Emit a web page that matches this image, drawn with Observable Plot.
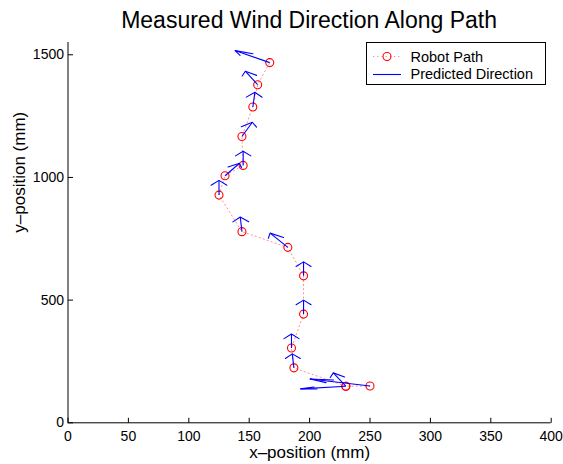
<!DOCTYPE html>
<html><head><meta charset="utf-8">
<script src="https://cdn.jsdelivr.net/npm/d3@7"></script>
<script src="https://cdn.jsdelivr.net/npm/@observablehq/plot@0.6"></script>
<style>
body{margin:0;background:#fff;font-family:"Liberation Sans",Arial,Helvetica,sans-serif;}
#wrap{position:relative;width:563px;height:464px;overflow:hidden;background:#fff;}
#title{height:35px;box-sizing:border-box;padding:5px 12.3px 0 67.5px;line-height:30px;font-size:23px;text-align:center;color:#000;white-space:nowrap;}
#legend{position:absolute;left:366px;top:42px;}
</style>
</head><body>
<div id="wrap">
<div id="title">Measured Wind Direction Along Path</div>
<div id="chart"></div>
<svg id="legend" width="181" height="44"></svg>
</div>
<script>
// Robot path positions (mm), in travel order
const pathX = [250, 230, 230, 187, 185, 195, 195, 182, 144, 125, 130, 145, 144, 153, 157, 167];
const pathY = [150, 149, 149, 224, 305, 443, 599, 715, 779, 928, 1007, 1049, 1167, 1287, 1378, 1468];
// Predicted wind direction vectors (as drawn, mm)
const windU = [-49.7, -37.5, -10.4, -1.3, 0, 0, 0, -14.7, -1.4, 0, 12, 0, 8.6, 1.7, -10.2, -28.7];
const windV = [28.5, -10.6, 54.5, 57, 57, 57, 57, 58, 60, 60, 51, 58, 58, 60, 55, 49];
const xTicks = [0, 50, 100, 150, 200, 250, 300, 350, 400];
const yTicks = [0, 500, 1000, 1500];
const legendLabels = ["Robot Path", "Predicted Direction"];

const W = 563, H = 429, mL = 67.5, mR = 12.3, mT = 7, mB = 41.7;
const xDom = [0, 400], yDom = [0, 1550];
const pxX = (W - mL - mR) / (xDom[1] - xDom[0]);
const pxY = (H - mT - mB) / (yDom[1] - yDom[0]);
const tickLen = 5;

const rows = pathX.map((x, i) => ({x, y: pathY[i], u: windU[i], v: windV[i], k: i}));
// MATLAB-style quiver arrowheads (alpha = beta = 0.33, in data units)
const alpha = 0.33, beta = 0.33;
const heads = rows.flatMap(d => {
  const tx = d.x + d.u, ty = d.y + d.v;
  return [
    {x: tx - alpha * (d.u + beta * d.v), y: ty - alpha * (d.v - beta * d.u), k: d.k},
    {x: tx, y: ty, k: d.k},
    {x: tx - alpha * (d.u - beta * d.v), y: ty - alpha * (d.v + beta * d.u), k: d.k}
  ];
});

const font = '"Liberation Sans", Arial, Helvetica, sans-serif';
const chart = Plot.plot({
  width: W, height: H,
  marginLeft: mL, marginRight: mR, marginTop: mT, marginBottom: mB,
  style: {fontFamily: font, fontSize: "14px", color: "#000", background: "#fff", overflow: "visible"},
  x: {domain: xDom},
  y: {domain: yDom},
  marks: [
    Plot.axisX({ticks: xTicks, tickSize: 0, tickPadding: 8, tickFormat: d => String(d), label: null, fontSize: 14}),
    Plot.axisY({ticks: yTicks, tickSize: 0, tickPadding: 4, tickFormat: d => String(d), label: null, fontSize: 14}),
    Plot.link(xTicks, {x1: d => d, x2: d => d, y1: yDom[0], y2: yDom[0] + tickLen / pxY, stroke: "#000", strokeWidth: 1}),
    Plot.link(yTicks, {y1: d => d, y2: d => d, x1: xDom[0], x2: xDom[0] + tickLen / pxX, stroke: "#000", strokeWidth: 1}),
    Plot.ruleY([yDom[0]], {stroke: "#000", strokeWidth: 1}),
    Plot.ruleX([xDom[0]], {stroke: "#000", strokeWidth: 1}),
    Plot.line(rows, {x: "x", y: "y", stroke: "#f00", strokeWidth: 1, strokeOpacity: 0.45, strokeDasharray: "1.2 3"}),
    Plot.dot(rows, {x: "x", y: "y", r: 4, stroke: "#f00", strokeWidth: 1.1, fill: "none"}),
    Plot.link(rows, {x1: "x", y1: "y", x2: d => d.x + d.u, y2: d => d.y + d.v, stroke: "#00f", strokeWidth: 1.1}),
    Plot.line(heads, {x: "x", y: "y", z: "k", stroke: "#00f", strokeWidth: 1.1}),
    Plot.text(["x\u2013position (mm)"], {frameAnchor: "bottom", dy: 30, lineAnchor: "middle", fontSize: 17, fill: "#000"}),
    Plot.text(["y\u2013position (mm)"], {frameAnchor: "left", dx: -48.5, rotate: -90, lineAnchor: "middle", fontSize: 17, fill: "#000"})
  ]
});
document.getElementById("chart").appendChild(chart);

// Legend
const lg = d3.select("#legend");
lg.append("rect").attr("x", 0.5).attr("y", 0.5).attr("width", 179).attr("height", 42).attr("fill", "#fff").attr("stroke", "#000").attr("stroke-width", 1);
lg.append("line").attr("x1", 7).attr("x2", 35).attr("y1", 14.5).attr("y2", 14.5)
  .attr("stroke", "#f00").attr("stroke-opacity", 0.45).attr("stroke-dasharray", "1.2 3");
lg.append("circle").attr("cx", 21).attr("cy", 14.5).attr("r", 4).attr("fill", "none").attr("stroke", "#f00").attr("stroke-width", 1.1);
lg.append("line").attr("x1", 7).attr("x2", 35).attr("y1", 32.5).attr("y2", 32.5).attr("stroke", "#00f").attr("stroke-width", 1.1);
lg.selectAll("text.lab").data(legendLabels).join("text").attr("class", "lab")
  .attr("x", 44.5).attr("y", (d, i) => i === 0 ? 14.5 : 32.3).attr("dy", "0.35em")
  .attr("font-family", font).attr("font-size", 14.5).attr("fill", "#000").text(d => d);
</script>
</body></html>
